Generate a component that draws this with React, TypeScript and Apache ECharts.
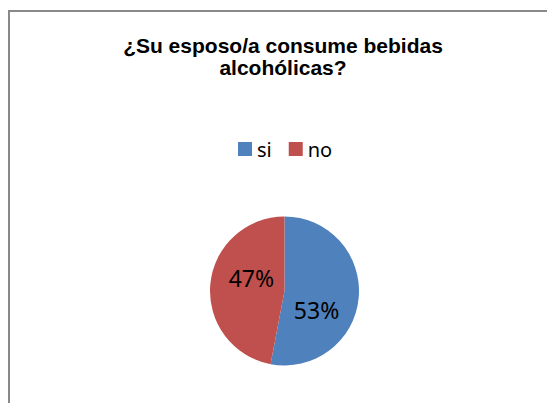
import React, { useEffect, useRef } from "react";
import * as echarts from "echarts";

const categories = ["si", "no"];
const values = [53, 47];
const colors = ["#4F81BD", "#C0504D"];
const titleLines = ["¿Su esposo/a consume bebidas", "alcohólicas?"];

export default function App() {
  const ref = useRef<HTMLDivElement>(null);
  useEffect(() => {
    if (!ref.current) return;
    const chart = echarts.init(ref.current, undefined, { renderer: "svg" });
    const labelShift = [
      [-8, 15],
      [7, -9],
    ];
    chart.setOption({
      animation: false,
      backgroundColor: "#ffffff",
      title: {
        text: titleLines.join("\n"),
        left: 283,
        top: 34,
        padding: 0,
        textAlign: "center",
        textStyle: {
          fontFamily: "Liberation Sans, Arial, sans-serif",
          fontSize: 21,
          fontWeight: "bold",
          color: "#000000",
          lineHeight: 22,
        },
      },
      legend: {
        data: categories,
        left: 238,
        top: 139,
        padding: 0,
        icon: "rect",
        itemWidth: 14,
        itemHeight: 14,
        itemGap: 17,
        textStyle: {
          fontFamily: "Noto Sans, sans-serif",
          fontSize: 20,
          color: "#000000",
          lineHeight: 20,
        },
      },
      graphic: [
        {
          type: "rect",
          shape: { x: 9, y: 11, width: 700, height: 600 },
          style: { fill: "none", stroke: "#898989", lineWidth: 2 },
          silent: true,
        },
      ],
      series: [
        {
          type: "pie",
          center: [284.5, 291],
          radius: 74.5,
          startAngle: 90,
          clockwise: true,
          data: categories.map((name, i) => ({
            name,
            value: values[i],
            itemStyle: { color: colors[i] },
          })),
          label: {
            show: true,
            position: "inside",
            formatter: (p: any) => Math.round(p.percent) + "%",
            fontFamily: "Noto Sans, sans-serif",
            fontSize: 23,
            color: "#000000",
          },
          labelLayout: (params: any) => ({
            dx: labelShift[params.dataIndex][0],
            dy: labelShift[params.dataIndex][1],
          }),
          labelLine: { show: false },
          emphasis: { disabled: true },
        },
      ],
    });
    return () => chart.dispose();
  }, []);
  return (
    <div
      ref={ref}
      style={{ position: "fixed", left: 0, top: 0, width: 547, height: 403 }}
    />
  );
}
